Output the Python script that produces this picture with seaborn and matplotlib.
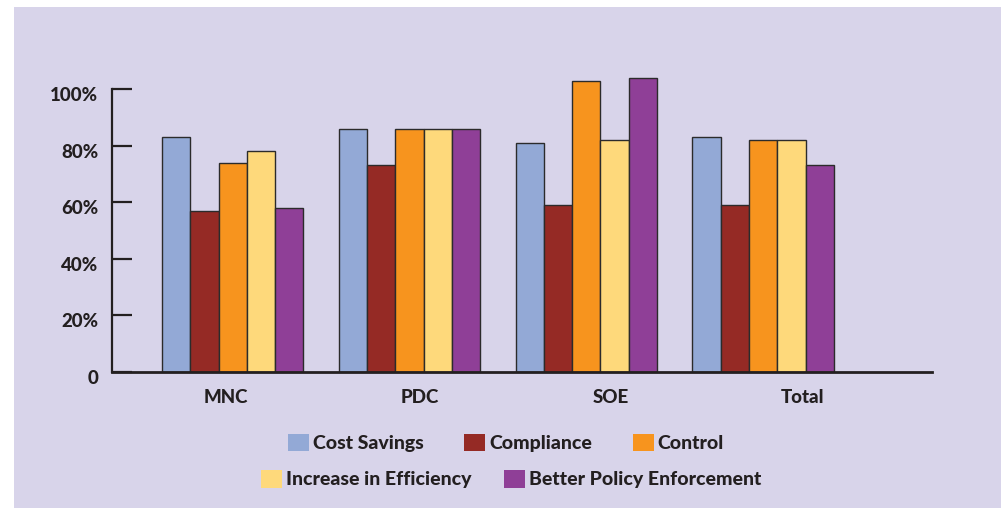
import numpy as np
import pandas as pd
import matplotlib
matplotlib.use("Agg")
import matplotlib.pyplot as plt
from matplotlib.patches import Patch, Rectangle
from matplotlib.transforms import ScaledTranslation
import seaborn as sns

# Survey results by organisation type (% of respondents)
groups = ["MNC", "PDC", "SOE", "Total"]
series = ["Cost Savings", "Compliance", "Control",
          "Increase in Efficiency", "Better Policy Enforcement"]
cost_savings = [83, 86, 81, 83]
compliance = [57, 73, 59, 59]
control = [74, 86, 103, 82]
efficiency = [78, 86, 82, 82]
policy = [58, 86, 104, 73]
y_ticks = [0, 20, 40, 60, 80, 100]
y_tick_labels = ["0", "20%", "40%", "60%", "80%", "100%"]

colors = ["#93a9d6", "#952a25", "#f7941e", "#fed97b", "#8f3f97"]
bg = "#d8d4ea"
ink = "#231f20"

wide = pd.DataFrame({
    "group": groups,
    series[0]: cost_savings,
    series[1]: compliance,
    series[2]: control,
    series[3]: efficiency,
    series[4]: policy,
})
df = wide.melt(id_vars="group", var_name="series", value_name="pct")

sns.set_style("white")
plt.rcParams["font.family"] = ["Lato", "DejaVu Sans"]
plt.rcParams["font.weight"] = 900

W, H = 1001, 508
fig = plt.figure(figsize=(W / 100, H / 100), dpi=100, facecolor="white")
fig.patches.append(Rectangle((14 / W, 0), 1 - 14 / W, 1 - 7 / H,
                             transform=fig.transFigure, facecolor=bg,
                             edgecolor="none", zorder=-10))

ax = fig.add_axes([112 / W, 136 / H, 820 / W, 311.3 / H])
ax.set_facecolor("none")

sns.barplot(data=df, x="group", y="pct", hue="series", order=groups,
            hue_order=series, palette=colors, saturation=1, width=0.8,
            edgecolor="#2b2b2b", linewidth=1.0, legend=False, ax=ax)

ax.set_xlim(-0.683, 3.955)
ax.set_ylim(0, 110)
ax.set_xlabel("")
ax.set_ylabel("")

# category labels sit a little right of each bar group
label_shift = [-0.04, 0.06, 0.14, 0.22]
ax.set_xticks(np.arange(len(groups)) + np.array(label_shift), groups)
ax.set_yticks(y_ticks, y_tick_labels)

ax.tick_params(axis="y", left=True, direction="in", length=14.4, width=1.6,
               color=ink, labelcolor=ink, labelsize=13.5, pad=10)
ax.tick_params(axis="x", bottom=False, length=0, labelcolor=ink,
               labelsize=13.5, pad=12)

for lbl in ax.get_yticklabels():
    lbl.set_transform(lbl.get_transform()
                      + ScaledTranslation(0, -0.05, fig.dpi_scale_trans))

for side in ("top", "right"):
    ax.spines[side].set_visible(False)
ax.spines["left"].set_bounds(0, 100)
ax.spines["left"].set_linewidth(1.6)
ax.spines["left"].set_color(ink)
ax.spines["bottom"].set_linewidth(2)
ax.spines["bottom"].set_color(ink)

handles = [Patch(facecolor=c, edgecolor="none") for c in colors]
common = dict(loc="center", frameon=False, fontsize=14, labelcolor=ink,
              handlelength=1.08, handleheight=1.03, handletextpad=0.2,
              borderpad=0, borderaxespad=0)
fig.legend(handles[:3], series[:3], bbox_to_anchor=(0.5055, 0.128),
           ncol=3, columnspacing=2.1, **common)
fig.legend(handles[3:], series[3:], bbox_to_anchor=(0.5105, 0.057),
           ncol=2, columnspacing=1.7, **common)

fig.savefig("out.png", dpi=100, facecolor="white")
